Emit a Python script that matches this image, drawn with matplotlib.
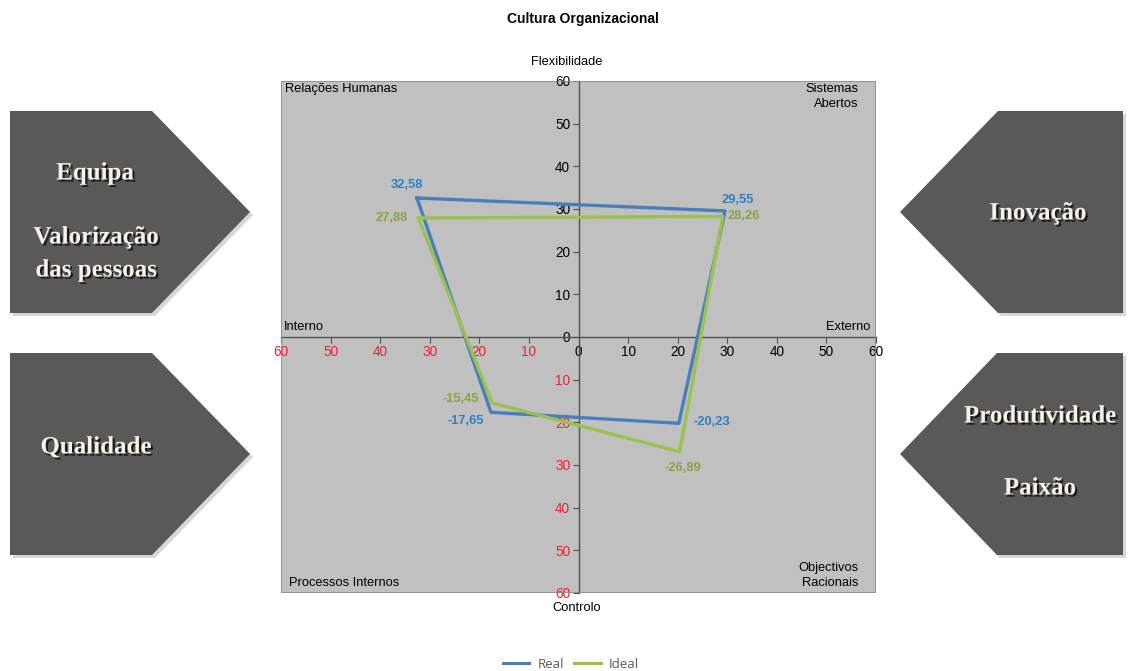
import matplotlib
matplotlib.use('Agg')
import matplotlib.pyplot as plt
import matplotlib.patheffects as pe
from matplotlib.patches import Polygon, Rectangle
from matplotlib.lines import Line2D

# dados (x, y de cada quadrante)
series = ['Real', 'Ideal']
real_x = [-32.58, 29.55, 20.23, -17.65]
real_y = [32.58, 29.55, -20.23, -17.65]
ideal_x = [-32.3, 29.1, 20.4, -17.4]
ideal_y = [27.88, 28.26, -26.89, -15.45]
ticks = [-60, -50, -40, -30, -20, -10, 0, 10, 20, 30, 40, 50, 60]

cor_real = '#4a7ebb'
cor_ideal = '#9bc24f'
cor_real_txt = '#2f7fc1'
cor_ideal_txt = '#86a443'
vermelho = '#e3262f'

plt.rcParams['font.family'] = ['Liberation Sans', 'DejaVu Sans']

fig = plt.figure(figsize=(11.3, 6.71), dpi=100)
fig.patch.set_facecolor('white')

# fundo com as setas (coordenadas em pixeis)
bg = fig.add_axes([0, 0, 1, 1])
bg.set_xlim(0, 1130)
bg.set_ylim(671, 0)
bg.axis('off')

setas = [
    [(10, 111), (152, 111), (250, 212), (152, 313), (10, 313)],
    [(10, 353), (152, 353), (250, 454), (152, 555), (10, 555)],
    [(1123, 111), (998, 111), (900, 212), (998, 313), (1123, 313)],
    [(1123, 353), (997, 353), (900, 454), (997, 555), (1123, 555)],
]
for s in setas:
    sombra = [(px + 3, py + 3) for px, py in s]
    bg.add_patch(Polygon(sombra, closed=True, facecolor='#bdbdbd', edgecolor='none', alpha=0.6))
    bg.add_patch(Polygon(s, closed=True, facecolor='#595959', edgecolor='none'))

textos_setas = [
    ('Equipa', 95, 173), ('Valorização', 96, 237), ('das pessoas', 96, 270),
    ('Qualidade', 96, 447), ('Inovação', 1038, 213),
    ('Produtividade', 1040, 416), ('Paixão', 1040, 488),
]
efeito = [pe.SimplePatchShadow(offset=(1.5, -1.5), shadow_rgbFace='black', alpha=0.7), pe.Normal()]
for t, tx, ty in textos_setas:
    bg.text(tx, ty, t, ha='center', va='center', fontsize=18, fontweight='bold',
            family=['Liberation Serif', 'DejaVu Serif'], color='#f6f2e8', path_effects=efeito)

# grafico principal
W, H = 1130, 671
ax = fig.add_axes([281 / W, (H - 593) / H, 595 / W, 512 / H])
ax.set_facecolor('#c0c0c0')
ax.set_xlim(-60, 60)
ax.set_ylim(-60, 60)

for k in ['top', 'right']:
    ax.spines[k].set_visible(False)
for k in ['left', 'bottom']:
    ax.spines[k].set_position('zero')
    ax.spines[k].set_color('#505050')
    ax.spines[k].set_linewidth(1.0)
ax.add_patch(Rectangle((0, 0), 1, 1, transform=ax.transAxes, fill=False,
                       edgecolor='#8c8c8c', linewidth=1.2, zorder=5))

ax.set_xticks(ticks)
ax.set_yticks(ticks)
ax.set_xticklabels([str(abs(v)) for v in ticks])
ax.set_yticklabels([str(abs(v)) for v in ticks])
ax.tick_params(axis='both', direction='out', length=4, width=0.8, color='#505050',
               labelsize=9.8, pad=2)
for v, lab in zip(ticks, ax.get_xticklabels()):
    lab.set_color(vermelho if v < 0 else 'black')
for v, lab in zip(ticks, ax.get_yticklabels()):
    lab.set_color(vermelho if v < 0 else 'black')

# linhas fechadas
ax.plot(real_x + real_x[:1], real_y + real_y[:1], color=cor_real, lw=2.4, zorder=3, label=series[0])
ax.plot(ideal_x + ideal_x[:1], ideal_y + ideal_y[:1], color=cor_ideal, lw=2.4, zorder=3, label=series[1])

def fmt(v):
    return f'{v:.2f}'.replace('.', ',')

desloc_real = [(-7, 9), (9, 8), (24, 1), (-18, -6)]
desloc_ideal = [(-19, 0), (15, 0), (2, -12), (-23, 3)]
for x, y, d in zip(real_x, real_y, desloc_real):
    ax.annotate(fmt(y), (x, y), xytext=d, textcoords='offset points', ha='center', va='center',
                fontsize=9.3, fontweight='bold', color=cor_real_txt, zorder=6)
for x, y, d in zip(ideal_x, ideal_y, desloc_ideal):
    ax.annotate(fmt(y), (x, y), xytext=d, textcoords='offset points', ha='center', va='center',
                fontsize=9.3, fontweight='bold', color=cor_ideal_txt, zorder=6)

# textos dos quadrantes
fs = 9.3
ax.text(0.007, 0.996, 'Relações Humanas', transform=ax.transAxes, ha='left', va='top', fontsize=fs)
ax.text(0.97, 0.996, 'Sistemas\nAbertos', transform=ax.transAxes, ha='right', va='top', fontsize=fs, linespacing=1.3)
ax.text(0.004, 0.508, 'Interno', transform=ax.transAxes, ha='left', va='bottom', fontsize=fs)
ax.text(0.99, 0.508, 'Externo', transform=ax.transAxes, ha='right', va='bottom', fontsize=fs)
ax.text(0.014, 0.008, 'Processos Internos', transform=ax.transAxes, ha='left', va='bottom', fontsize=fs)
ax.text(0.97, 0.008, 'Objectivos\nRacionais', transform=ax.transAxes, ha='right', va='bottom', fontsize=fs, linespacing=1.3)

fig.text(567 / W, 1 - 62 / H, 'Flexibilidade', ha='center', va='center', fontsize=fs)
fig.text(577 / W, 1 - 608 / H, 'Controlo', ha='center', va='center', fontsize=fs)
fig.text(583 / W, 1 - 19 / H, 'Cultura Organizacional', ha='center', va='center', fontsize=10, fontweight='bold')

handles = [Line2D([], [], color=cor_real, lw=2.2), Line2D([], [], color=cor_ideal, lw=2.2)]
leg = fig.legend(handles, series, loc='center', bbox_to_anchor=(571 / W, 1 - 664 / H), ncol=2,
                 frameon=False, fontsize=9.5, handlelength=2.0, columnspacing=0.8, handletextpad=0.6)
for t in leg.get_texts():
    t.set_color('#595959')
    t.set_family(['Open Sans', 'DejaVu Sans'])

fig.savefig('out.png', dpi=100, facecolor='white')
